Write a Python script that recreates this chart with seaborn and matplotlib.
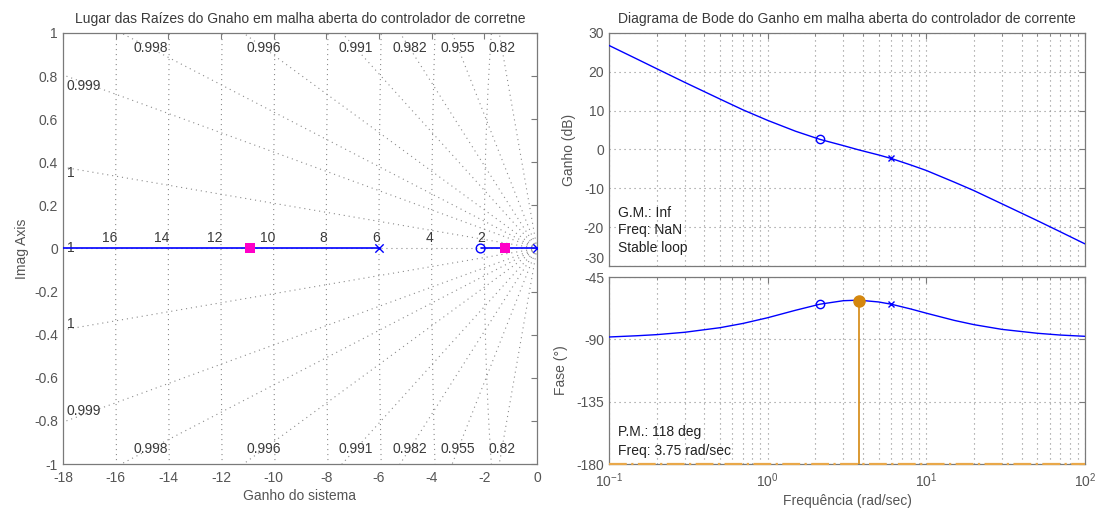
import numpy as np
import matplotlib
matplotlib.use("Agg")
import matplotlib.pyplot as plt
import seaborn as sns

# ---------------- root locus data ----------------
ol_poles = [0.0, -6.0]          # open-loop poles (x)
ol_zeros = [-2.14]              # open-loop zero (o)
cl_poles = [-1.2, -10.9]        # closed-loop poles for the chosen gain
locus_start = [-18.0, -2.14]    # real-axis branches of the locus
locus_end = [-6.0, 0.0]

# s-plane grid: damping ratios and natural frequencies
zetas = [0.82, 0.955, 0.982, 0.991, 0.996, 0.998, 0.999, 0.99978, 1.0]
wns = [2, 4, 6, 8, 10, 12, 14, 16]

# ---------------- Bode data ----------------
freq = [0.1, 0.15, 0.2, 0.3, 0.5, 0.7, 1.0, 1.5, 2.14, 3.0, 3.75, 5.0, 6.0,
        8.0, 10.0, 15.0, 20.0, 30.0, 50.0, 70.0, 100.0]
mag_db = [26.8, 23.3, 20.8, 17.3, 13.0, 10.2, 7.5, 4.7, 2.6, 1.0, -0.1, -1.4,
          -2.3, -4.0, -5.4, -8.4, -10.6, -14.0, -18.3, -21.2, -24.3]
phase_deg = [-88.3, -87.4, -86.6, -84.9, -81.6, -78.5, -74.4, -69.0, -64.6,
             -62.1, -61.7, -63.0, -64.6, -68.1, -71.1, -76.3, -79.4, -82.8,
             -85.6, -86.9, -87.8]
comp_zero_w = 2.14
comp_pole_w = 6.0
pm_deg = 118
pm_freq = 3.75

BLUE = "#0000ff"
MAGENTA = "#ff00c8"
ORANGE = "#d4870f"
ORANGE_LIGHT = "#e9a84a"
GRID = "#8c8c8c"
TXT = "#3a3a3a"
SPINE = "#7a7a7a"
FS = 10

sns.set_style("white")
plt.rcParams["font.family"] = ["Liberation Sans", "DejaVu Sans"]
plt.rcParams["font.size"] = FS
plt.rcParams["axes.unicode_minus"] = False
plt.rcParams["text.color"] = TXT
plt.rcParams["axes.labelcolor"] = "#555555"
plt.rcParams["xtick.color"] = "#555555"
plt.rcParams["ytick.color"] = "#555555"

fig = plt.figure(figsize=(10.99, 5.13), dpi=100)
axL = fig.add_axes([0.0573, 0.0955, 0.4313, 0.8402])
axM = fig.add_axes([0.5541, 0.4815, 0.4331, 0.4542])
axP = fig.add_axes([0.5541, 0.0955, 0.4331, 0.3645])


def style_axes(ax):
    for s in ax.spines.values():
        s.set_color(SPINE)
        s.set_linewidth(0.9)
    ax.tick_params(which="both", direction="in", top=True, right=True,
                   color=SPINE, labelsize=FS, labelcolor="#555555")
    ax.tick_params(which="major", length=4)
    ax.tick_params(which="minor", length=2)
    ax.tick_params(axis="x", pad=5)


DOTS = (0, (1, 3.5))

# ---------------- root locus ----------------
ax = axL
dot = dict(color=GRID, lw=0.8, ls=DOTS, zorder=1)
# damping ratio rays
for z in zetas:
    r = 40.0
    xe, ye = -r * z, r * np.sqrt(max(0.0, 1 - z * z))
    ax.plot([0, xe], [0, ye], **dot)
    if ye > 0:
        ax.plot([0, xe], [0, -ye], **dot)
# natural frequency arcs
th = np.linspace(np.pi / 2, 3 * np.pi / 2, 600)
for wn in wns:
    ax.plot(wn * np.cos(th), wn * np.sin(th), **dot)
    ax.text(-wn + 0.05, 0.015, f"{wn}", ha="right", va="bottom", color=TXT)

# damping ratio labels
ylab = 0.93
for z in zetas:
    t = np.sqrt(max(0.0, 1 - z * z)) / z
    lab = f"{z:.3g}"
    if t > 0 and ylab / t < 17.0:
        xl = -ylab / t
        ax.text(xl, ylab, lab, ha="center", va="center", color=TXT)
        ax.text(xl, -ylab, lab, ha="center", va="center", color=TXT)
    else:
        yl = 16.8 * t
        ax.text(-17.85, yl, lab, ha="left", va="center", color=TXT)
        if yl > 0:
            ax.text(-17.85, -yl, lab, ha="left", va="center", color=TXT)

# locus branches
for a, b in zip(locus_start, locus_end):
    sns.lineplot(x=[a, b], y=[0, 0], ax=ax, color=BLUE, lw=1.2,
                 estimator=None, zorder=3)
sns.scatterplot(x=ol_poles, y=[0] * len(ol_poles), ax=ax, marker="x",
                color=BLUE, s=36, linewidth=1.0, zorder=4)
sns.scatterplot(x=ol_zeros, y=[0] * len(ol_zeros), ax=ax, marker="o",
                facecolor="none", edgecolor=BLUE, s=40, linewidth=1.0, zorder=4)
sns.scatterplot(x=cl_poles, y=[0] * len(cl_poles), ax=ax, marker="s",
                color=MAGENTA, s=50, linewidth=0, zorder=5)

ax.set_xlim(-18, 0)
ax.set_ylim(-1, 1)
ax.set_xticks(np.arange(-18, 1, 2))
yt = np.round(np.arange(-1, 1.01, 0.2), 1) + 0.0
ax.set_yticks(yt)
ax.set_yticklabels([f"{v:g}" for v in yt])
ax.set_title("Lugar das Raízes do Gnaho em malha aberta do controlador de corretne",
             fontsize=FS, color=TXT, pad=7)
ax.set_xlabel("Ganho do sistema", fontsize=FS, labelpad=3)
ax.set_ylabel("Imag Axis", fontsize=FS, labelpad=4)
style_axes(ax)

# ---------------- Bode magnitude ----------------
ax = axM
ax.set_xscale("log")
sns.lineplot(x=freq, y=mag_db, ax=ax, color=BLUE, lw=1.0, estimator=None,
             sort=False, zorder=3)
iz, ip = freq.index(comp_zero_w), freq.index(comp_pole_w)
ax.plot([freq[iz]], [mag_db[iz]], "o", mfc="none", mec=BLUE, ms=6, mew=1.0, zorder=4)
ax.plot([freq[ip]], [mag_db[ip]], "x", color=BLUE, ms=5, mew=1.0, zorder=4)
ax.set_xlim(0.1, 100)
ax.set_ylim(-30, 30)
ax.set_yticks(np.arange(-30, 31, 10))
ax.grid(True, which="both", axis="x", color=GRID, ls=DOTS, lw=0.8)
ax.grid(True, which="major", axis="y", color=GRID, ls=DOTS, lw=0.8)
ax.tick_params(labelbottom=False)
ax.set_title("Diagrama de Bode do Ganho em malha aberta do controlador de corrente",
             fontsize=FS, color=TXT, pad=7)
ax.set_ylabel("Ganho (dB)", fontsize=FS, labelpad=6)
ax.text(0.02, 0.227, "G.M.: Inf", transform=ax.transAxes, va="center", color="#222222")
ax.text(0.02, 0.155, "Freq: NaN", transform=ax.transAxes, va="center", color="#222222")
ax.text(0.02, 0.077, "Stable loop", transform=ax.transAxes, va="center", color="#222222")
style_axes(ax)
# the lowest magnitude label sits just above the phase panel's top label
ax.get_yticklabels()[0].set_verticalalignment("bottom")

# ---------------- Bode phase ----------------
ax = axP
ax.set_xscale("log")
sns.lineplot(x=freq, y=phase_deg, ax=ax, color=BLUE, lw=1.0, estimator=None,
             sort=False, zorder=3)
ax.plot([freq[iz]], [phase_deg[iz]], "o", mfc="none", mec=BLUE, ms=6, mew=1.0, zorder=4)
ax.plot([freq[ip]], [phase_deg[ip]], "x", color=BLUE, ms=5, mew=1.0, zorder=4)
pm_phase = -180 + pm_deg
ax.plot([pm_freq, pm_freq], [-180, pm_phase], color=ORANGE, lw=1.2, zorder=4)
ax.plot([pm_freq], [pm_phase], "o", color=ORANGE, ms=8, zorder=5)
ax.plot([0.1, 100], [-180, -180], color=ORANGE_LIGHT, lw=1.6,
        ls=(0, (8, 2, 1, 2)), clip_on=False, zorder=6)
ax.set_xlim(0.1, 100)
ax.set_ylim(-180, -45)
ax.set_yticks([-180, -135, -90, -45])
ax.grid(True, which="both", axis="x", color=GRID, ls=DOTS, lw=0.8)
ax.grid(True, which="major", axis="y", color=GRID, ls=DOTS, lw=0.8)
ax.set_xlabel("Frequência (rad/sec)", fontsize=FS, labelpad=3)
ax.set_ylabel("Fase (°)", fontsize=FS, labelpad=6)
ax.text(0.02, 0.171, f"P.M.: {pm_deg} deg", transform=ax.transAxes, va="center", color="#222222")
ax.text(0.02, 0.07, f"Freq: {pm_freq} rad/sec", transform=ax.transAxes, va="center", color="#222222")
style_axes(ax)

fig.savefig("out.png", dpi=100, facecolor="white")
